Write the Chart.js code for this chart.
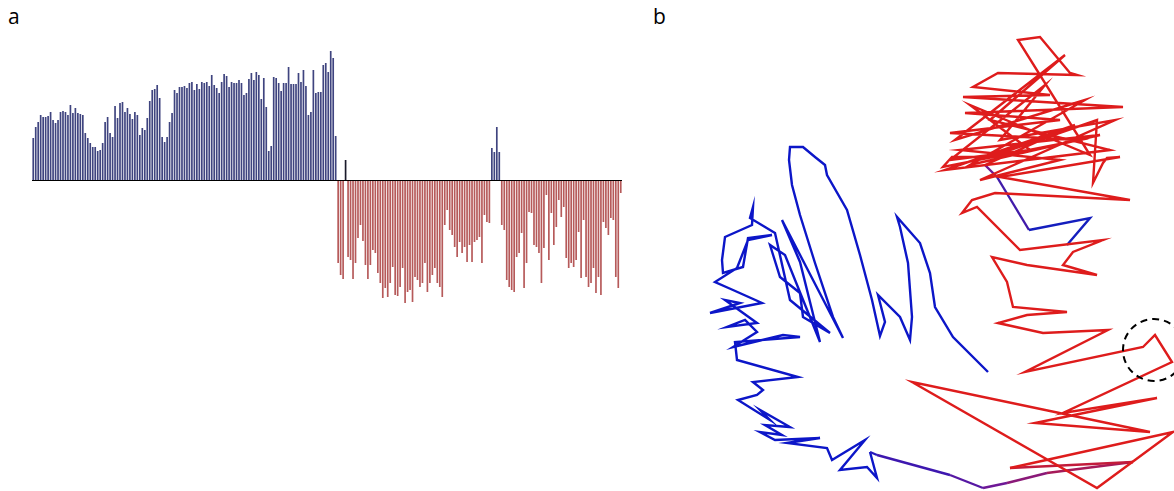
<!DOCTYPE html>
<html>
<head>
<meta charset="utf-8">
<script src="https://cdn.jsdelivr.net/npm/chart.js@4"></script>
<style>
  html, body { margin: 0; padding: 0; background: #fff; }
  body { width: 1174px; height: 491px; position: relative; overflow: hidden; font-family: "Open Sans", "Noto Sans", sans-serif; }
  .tag { position: absolute; font-size: 21px; color: #000; line-height: 1; }
  #barChart { position: absolute; left: 32px; top: 40px; }
  #pathChart { position: absolute; left: 700px; top: 0px; }
</style>
</head>
<body>
<div class="tag" style="left:8px; top:6px;">a</div>
<div class="tag" style="left:653px; top:6px;">b</div>
<canvas id="barChart" width="590" height="280"></canvas>
<canvas id="pathChart" width="474" height="491"></canvas>
<script>
// panel a: signed bar heights, left to right
const values = [
  42, 53, 58, 65, 63, 63, 64, 68, 60, 57, 60, 68, 69, 68, 65, 75, 67, 72, 67, 66,
  65, 47, 42, 37, 33, 33, 29, 30, 37, 58, 63, 47, 43, 74, 62, 77, 78, 68, 72, 66,
  61, 68, 65, 45, 52, 50, 62, 79, 90, 91, 95, 82, 43, 38, 43, 58, 67, 90, 87, 93,
  93, 94,
  92, 97, 98, 90, 96, 91, 98, 97, 98, 94, 105, 95, 92, 87, 98, 106, 104, 93, 98, 97,
  97, 100, 97, 85, 87, 101, 107, 100, 108, 105, 81, 102, 73, 29, 34, 103, 102, 97, 89, 97,
  97, 113, 96, 96, 96, 107, 98, 110, 94, 65, 68, 110, 87, 88, 88, 115, 117, 108, 129, 122,
  44,
  -83, -95, -99, 20,
  -77, -80, -99, -83, -58, -45, -61, -85, -99, -85, -70, -73, -93, -103, -118, -108,
  -117, -103, -87, -115, -116, -107, -88, -123, -112, -110, -122, -97, -100, -107, -103, -83,
  -112, -103, -95, -88, -103, -107, -117, -45, -30, -50, -55, -67, -77, -62, -73, -67,
  -82, -65, -82,
  -62, -60, -57, -83, -35, -42, -43,
  32, 28, 53, 28,
  -45, -50, -100, -107, -110, -112, -77, -73, -53, -108, -83, -32, -33, -65, -67, -73,
  -103, -68,
  -15, -80, -33, -65, -47, -20, -37, -27, -78, -88, -83, -87, -80, -52, -98, -40,
  -97, -107, -103, -88, -113, -97, -115, -42, -48, -55, -38, -40, -97, -108, -13
];
const categories = values.map((_, i) => i + 1);
const darkBars = [126];

// panel b: trajectory (x from panel left, y from top)
const blueX = [288, 253, 235, 230, 220, 197, 200, 208, 212, 210, 200, 178, 185, 180, 172, 160, 147, 127, 125, 115,
  103, 90, 89, 92, 100, 115, 133, 143, 82, 100, 120, 85, 70, 80, 100, 103, 130, 90,
  75, 50, 53, 52, 25, 22, 23, 43, 48, 72, 48, 37, 15, 33, 62, 10, 40, 25, 57, 27,
  45, 57, 33, 83, 100, 35, 37, 98, 53, 63, 57, 38, 70, 60, 90, 65, 82, 60, 75, 120,
  87, 127, 132, 165, 140, 167, 177, 170, 177, 250, 283];
const blueY = [372, 337, 307, 273, 243, 217, 227, 263, 317, 340, 317, 295, 322, 336, 300, 255, 210, 175, 165, 157,
  147, 147, 160, 185, 215, 263, 317, 338, 220, 262, 342, 255, 245, 277, 293, 317, 333, 300,
  233, 218, 207, 225, 237, 260, 273, 267, 238, 235, 240, 268, 282, 290, 303, 313, 303, 300, 323, 327,
  320, 332, 347, 335, 337, 342, 360, 377, 382, 390, 395, 400, 420, 410, 427, 425, 435, 432, 440, 438,
  443, 448, 460, 440, 470, 467, 478, 452, 455, 475, 488];
const redX = [283, 307, 347, 433, 310, 473, 397, 212, 450, 335, 457, 363, 472, 455, 443, 325, 408, 343, 298, 327,
  367, 313, 307, 292, 327, 397, 363, 373, 403, 320, 277, 262, 272, 295, 430, 300, 420, 407, 403, 393,
  397, 290, 252, 243, 380, 250, 360, 265, 423, 263, 350, 273, 298, 377, 370, 340, 318, 390, 270, 330,
  250, 345, 300, 415, 280, 360, 260, 400, 270, 385, 255, 365, 290, 410, 245, 375, 285];
const redY = [488, 483, 473, 462, 468, 432, 488, 382, 432, 423, 398, 413, 362, 335, 347, 372, 330, 333, 323, 315,
  312, 307, 282, 257, 265, 275, 265, 252, 240, 250, 207, 213, 200, 193, 200, 177, 157, 158, 163, 183,
  120, 157, 157, 167, 140, 133, 120, 113, 107, 97, 95, 87, 73, 75, 73, 37, 40, 155, 105, 150,
  160, 85, 140, 120, 180, 160, 150, 135, 165, 100, 140, 55, 120, 150, 170, 125, 165];
const innerX = [285, 297, 329, 390, 367];
const innerY = [165, 177, 230, 218, 245];
const circleCenter = { x: 454, y: 350 };

const toPoints = (xs, ys) => xs.map((x, i) => ({ x: x, y: ys[i] }));

function mix(a, b, t) {
  const r = Math.round(a[0] + (b[0] - a[0]) * t);
  const g = Math.round(a[1] + (b[1] - a[1]) * t);
  const bl = Math.round(a[2] + (b[2] - a[2]) * t);
  return `rgb(${r},${g},${bl})`;
}
const BLUE = [12, 22, 200], PURPLE = [110, 24, 150], RED = [222, 28, 28];

// bar chart
const zeroLine = {
  id: 'zeroLine',
  afterDatasetsDraw(chart) {
    const { ctx, chartArea, scales } = chart;
    const y = Math.round(scales.y.getPixelForValue(0)) + 0.5;
    ctx.save();
    ctx.strokeStyle = '#000';
    ctx.lineWidth = 1.2;
    ctx.beginPath();
    ctx.moveTo(chartArea.left, y);
    ctx.lineTo(chartArea.right, y);
    ctx.stroke();
    ctx.restore();
  }
};

new Chart(document.getElementById('barChart'), {
  type: 'bar',
  data: {
    labels: categories,
    datasets: [{
      label: 'positive',
      data: values.map(v => (v > 0 ? v : null)),
      backgroundColor: ctx => (darkBars.includes(ctx.dataIndex) ? '#1a1a2a' : '#3f447f'),
      barPercentage: 0.68,
      categoryPercentage: 1
    }, {
      label: 'negative',
      data: values.map(v => (v < 0 ? v : null)),
      backgroundColor: '#b65a5a',
      barPercentage: 0.68,
      categoryPercentage: 1
    }]
  },
  options: {
    responsive: false,
    animation: false,
    layout: { padding: 0 },
    plugins: { legend: { display: false }, tooltip: { enabled: false } },
    scales: {
      x: { display: false, stacked: true },
      y: { display: false, stacked: true, min: -140, max: 140 }
    }
  },
  plugins: [zeroLine]
});

// trajectory chart
const dashedCircle = {
  id: 'dashedCircle',
  afterDatasetsDraw(chart) {
    const { ctx, scales } = chart;
    const cx = scales.x.getPixelForValue(circleCenter.x);
    const cy = scales.y.getPixelForValue(circleCenter.y);
    ctx.save();
    ctx.strokeStyle = '#000';
    ctx.lineWidth = 2;
    ctx.setLineDash([7, 5]);
    ctx.beginPath();
    ctx.arc(cx, cy, 31, 0, Math.PI * 2);
    ctx.stroke();
    ctx.restore();
  }
};

const blueN = blueX.length - 1;
new Chart(document.getElementById('pathChart'), {
  type: 'scatter',
  data: {
    datasets: [{
      label: 'early',
      data: toPoints(blueX, blueY),
      showLine: true,
      borderWidth: 2.4,
      pointRadius: 0,
      borderColor: mix(BLUE, BLUE, 0),
      segment: {
        borderColor: ctx => {
          const k = ctx.p0DataIndex - (blueN - 4);
          return k > 0 ? mix(BLUE, PURPLE, k / 4) : mix(BLUE, BLUE, 0);
        }
      }
    }, {
      label: 'late',
      data: toPoints(redX, redY),
      showLine: true,
      borderWidth: 2.4,
      pointRadius: 0,
      borderColor: mix(RED, RED, 0),
      segment: {
        borderColor: ctx => (ctx.p0DataIndex < 4 ? mix(PURPLE, RED, ctx.p0DataIndex / 4) : mix(RED, RED, 0))
      }
    }, {
      label: 'inner',
      data: toPoints(innerX, innerY),
      showLine: true,
      borderWidth: 2.4,
      pointRadius: 0,
      segment: {
        borderColor: ctx => mix(PURPLE, [20, 30, 190], Math.min(1, ctx.p0DataIndex / 2))
      }
    }]
  },
  options: {
    responsive: false,
    animation: false,
    layout: { padding: 0 },
    plugins: { legend: { display: false }, tooltip: { enabled: false } },
    scales: {
      x: { display: false, min: 0, max: 474 },
      y: { display: false, min: 0, max: 491, reverse: true }
    }
  },
  plugins: [dashedCircle]
});
</script>
</body>
</html>
